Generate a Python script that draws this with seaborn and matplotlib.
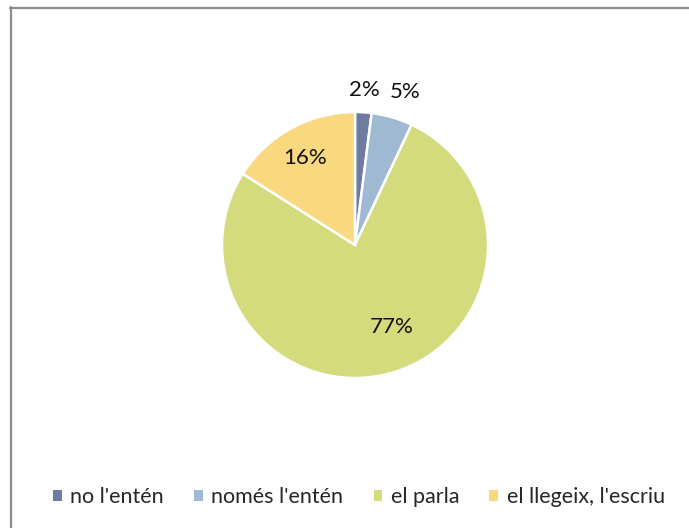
import numpy as np
import matplotlib
matplotlib.use("Agg")
import matplotlib.pyplot as plt
import seaborn as sns
from matplotlib.lines import Line2D
from matplotlib.patches import Patch

categories = ["no l'entén", "només l'entén", "el parla", "el llegeix, l'escriu"]
values = [2, 5, 77, 16]
labels = ["2%", "5%", "77%", "16%"]
colors = ["#6F7BA1", "#9EB9D1", "#D3DB7D", "#F9D87F"]
label_dist = [1.17, 1.21, 0.68, 0.75]
label_shift = [0, -2, 8, 1]

sns.set_theme(style="white")
plt.rcParams['font.family'] = ['Lato', 'DejaVu Sans']

W, H = 689, 528
fig = plt.figure(figsize=(W / 100, H / 100), dpi=100)
cx, cy, r = 355, 245, 133
ax = fig.add_axes([(cx - r) / W, (H - cy - r) / H, 2 * r / W, 2 * r / H])

wedges, _ = ax.pie(values, colors=colors, startangle=90, counterclock=False,
                   radius=1.0, wedgeprops=dict(edgecolor="white", linewidth=1.8))
ax.set_xlim(-1, 1)
ax.set_ylim(-1, 1)
ax.set_aspect("equal")
ax.axis("off")

for w, lab, d, s in zip(wedges, labels, label_dist, label_shift):
    ang = np.deg2rad((w.theta1 + w.theta2) / 2 + s)
    ax.text(d * np.cos(ang), d * np.sin(ang), lab, ha="center", va="center",
            fontsize=16, color="#111111", clip_on=False)

handles = [Patch(facecolor=c, edgecolor="none") for c in colors]
fig.legend(handles, categories, loc="center", bbox_to_anchor=(0.521, 1 - 497 / H),
           ncol=4, frameon=False, fontsize=15.5, handlelength=0.4, handleheight=0.4,
           handletextpad=0.4, columnspacing=1.4)

# outer border (top and left visible)
fig.add_artist(Line2D([10 / W, 1.0], [1 - 8 / H, 1 - 8 / H], transform=fig.transFigure,
                      color="#8C8C8C", linewidth=1.6))
fig.add_artist(Line2D([11 / W, 11 / W], [0.0, 1 - 7 / H], transform=fig.transFigure,
                      color="#8C8C8C", linewidth=1.6))

fig.savefig("out.png", dpi=100, facecolor="white")
